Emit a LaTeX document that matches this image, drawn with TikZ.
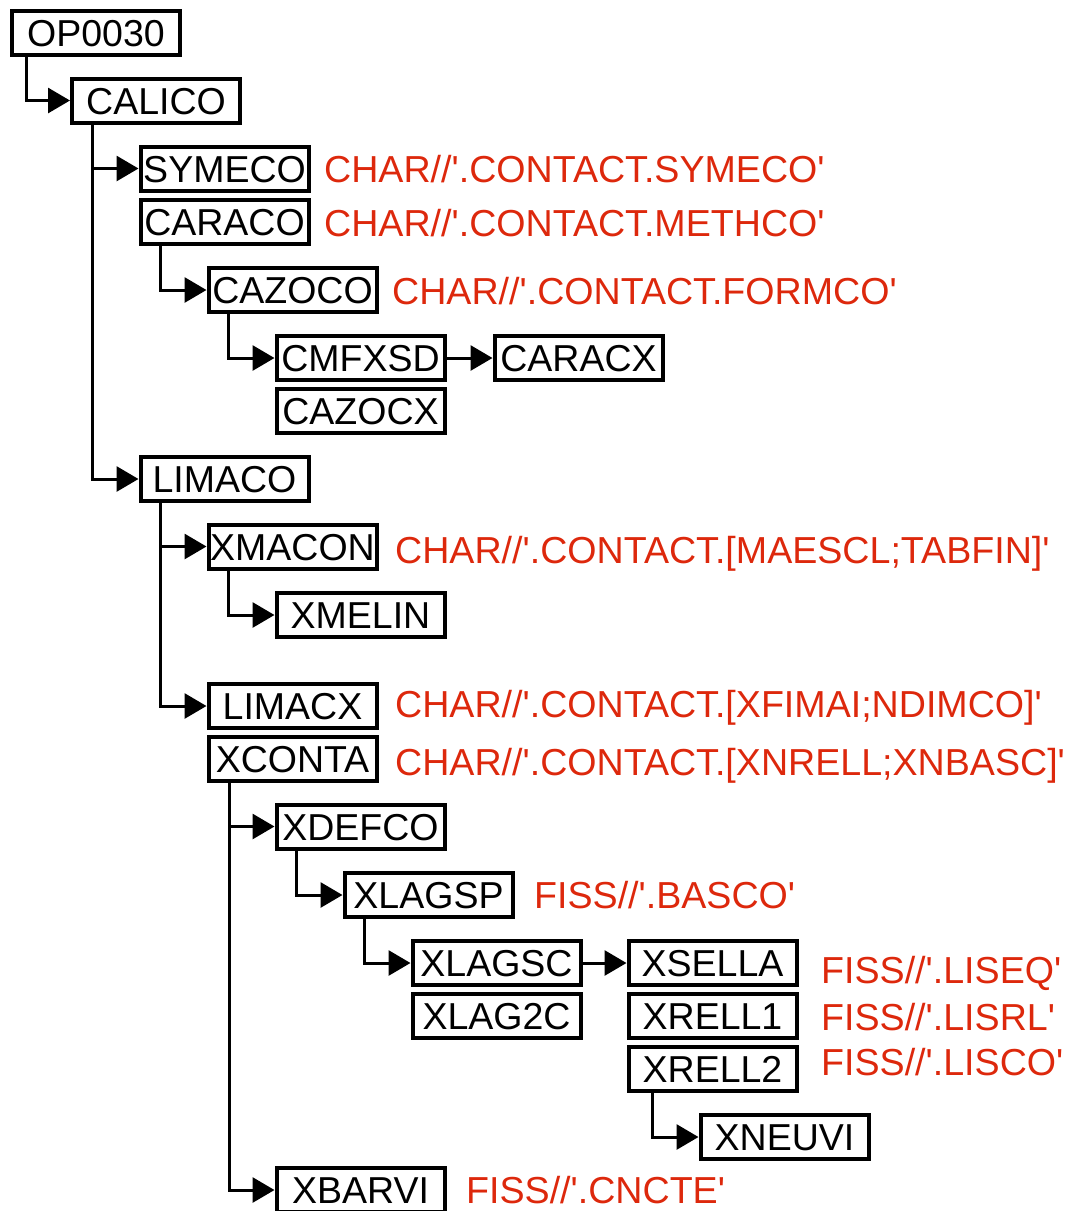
\documentclass[tikz,border=0pt]{standalone}
\usepackage{fontspec}
\setmainfont{Liberation Sans}[Ligatures=TeXOff]
\usetikzlibrary{arrows.meta}
\definecolor{callred}{RGB}{221,40,12}
\tikzset{
  routine/.style={draw=black, line width=4pt, minimum width=168pt, minimum height=44pt,
    inner sep=0pt, text height=27pt, text depth=0pt, font=\fontsize{37.5}{40}\selectfont},
  calltext/.style={anchor=base west, inner sep=0pt, text=callred, font=\fontsize{37.6}{40}\selectfont},
  link/.style={line width=3pt, -{Triangle[length=22pt,width=25pt]}}
}
\begin{document}
\begin{tikzpicture}[x=1pt,y=-1pt]
\useasboundingbox (0,0) rectangle (1069,1211);

% routine boxes
\node[routine] (op)     at (96,32.5)    {OP0030};
\node[routine] (calico) at (156,100.5)  {CALICO};
\node[routine] (symeco) at (224.5,168.5){SYMECO};
\node[routine] (caraco) at (224.5,221.5){CARACO};
\node[routine] (cazoco) at (292.5,290)  {CAZOCO};
\node[routine] (cmfxsd) at (360.5,358)  {CMFXSD};
\node[routine] (caracx) at (578.5,358)  {CARACX};
\node[routine] (cazocx) at (360.5,411)  {CAZOCX};
\node[routine] (limaco) at (224.5,479)  {LIMACO};
\node[routine] (xmacon) at (292.5,546.5){XMACON};
\node[routine] (xmelin) at (360.5,615)  {XMELIN};
\node[routine] (limacx) at (292.5,706)  {LIMACX};
\node[routine] (xconta) at (292.5,759)  {XCONTA};
\node[routine] (xdefco) at (360.5,826.5){XDEFCO};
\node[routine] (xlagsp) at (428.5,895)  {XLAGSP};
\node[routine] (xlagsc) at (496.5,963)  {XLAGSC};
\node[routine] (xsella) at (712.5,963)  {XSELLA};
\node[routine] (xlagtc) at (496.5,1016) {XLAG2C};
\node[routine] (xrella) at (712.5,1016) {XRELL1};
\node[routine] (xrellb) at (712.5,1069) {XRELL2};
\node[routine] (xneuvi) at (784.5,1137) {XNEUVI};
\node[routine] (xbarvi) at (360.5,1190) {XBARVI};

% data structure annotations
\node[calltext] (t1)  at (324,182)  {CHAR//'.CONTACT.SYMECO'};
\node[calltext] (t2)  at (324,236)  {CHAR//'.CONTACT.METHCO'};
\node[calltext] (t3)  at (392,304)  {CHAR//'.CONTACT.FORMCO'};
\node[calltext] (t4)  at (395,563)  {CHAR//'.CONTACT.[MAESCL;TABFIN]'};
\node[calltext] (t5)  at (395,717)  {CHAR//'.CONTACT.[XFIMAI;NDIMCO]'};
\node[calltext] (t6)  at (395,775)  {CHAR//'.CONTACT.[XNRELL;XNBASC]'};
\node[calltext] (t7)  at (534,908)  {FISS//'.BASCO'};
\node[calltext] (t8)  at (821,983)  {FISS//'.LISEQ'};
\node[calltext] (t9)  at (821,1030) {FISS//'.LISRL'};
\node[calltext] (t10) at (821,1075) {FISS//'.LISCO'};
\node[calltext] (t11) at (466,1203) {FISS//'.CNCTE'};

% call links
\draw[link] ([xshift=16pt]op.south west) |- (calico.west);
\draw[link] ([xshift=22pt]calico.south west) |- (symeco.west);
\draw[link] ([xshift=22pt]calico.south west) |- (limaco.west);
\draw[link] ([xshift=22pt]caraco.south west) |- (cazoco.west);
\draw[link] ([xshift=22pt]cazoco.south west) |- (cmfxsd.west);
\draw[link] (cmfxsd.east) -- (caracx.west);
\draw[link] ([xshift=22pt]limaco.south west) |- (xmacon.west);
\draw[link] ([xshift=22pt]limaco.south west) |- (limacx.west);
\draw[link] ([xshift=22pt]xmacon.south west) |- (xmelin.west);
\draw[link] ([xshift=23pt]xconta.south west) |- (xdefco.west);
\draw[link] ([xshift=23pt]xconta.south west) |- (xbarvi.west);
\draw[link] ([xshift=22pt]xdefco.south west) |- (xlagsp.west);
\draw[link] ([xshift=22pt]xlagsp.south west) |- (xlagsc.west);
\draw[link] (xlagsc.east) -- (xsella.west);
\draw[link] ([xshift=26pt]xrellb.south west) |- (xneuvi.west);
\end{tikzpicture}
\end{document}
